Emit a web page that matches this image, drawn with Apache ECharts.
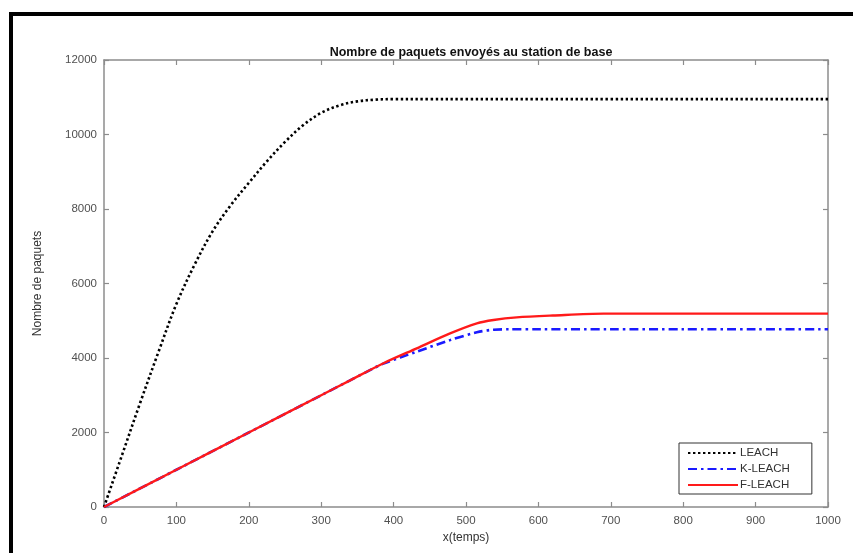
<!DOCTYPE html>
<html>
<head>
<meta charset="utf-8">
<script src="https://cdn.jsdelivr.net/npm/echarts@6/dist/echarts.min.js"></script>
<style>
html,body{margin:0;padding:0;background:#fff;}
#chart{width:853px;height:553px;}
</style>
</head>
<body>
<div id="chart"></div>
<script>
// Data
const leachT   = [0, 25, 50, 75, 100, 125, 150, 175, 200, 225, 250, 275, 300, 325, 350, 375, 400, 450, 500, 600, 700, 800, 900, 1000];
const leachV   = [0, 1400, 2800, 4150, 5450, 6500, 7400, 8100, 8700, 9280, 9800, 10250, 10580, 10780, 10890, 10935, 10950, 10950, 10950, 10950, 10950, 10950, 10950, 10950];
const kleachT  = [0, 100, 200, 300, 370, 386, 432, 478, 515, 538, 560, 600, 700, 800, 900, 1000];
const kleachV  = [0, 1000, 2000, 3000, 3700, 3850, 4170, 4480, 4690, 4760, 4770, 4770, 4770, 4770, 4770, 4770];
const fleachT  = [0, 100, 200, 300, 340, 386, 432, 478, 515, 538, 570, 620, 690, 800, 900, 1000];
const fleachV  = [0, 1000, 2000, 3000, 3400, 3860, 4260, 4660, 4930, 5020, 5090, 5140, 5190, 5190, 5190, 5190];
const xTicks = [0, 100, 200, 300, 400, 500, 600, 700, 800, 900, 1000];
const yTicks = [0, 2000, 4000, 6000, 8000, 10000, 12000];

const pair = (t, v) => t.map((x, i) => [x, v[i]]);
const font = 'Liberation Sans, Arial, sans-serif';
const axisGray = '#8c8c8c';
const labelGray = '#505050';

const chart = echarts.init(document.getElementById('chart'), null, {renderer: 'canvas'});
const baseAxisX = {
  type: 'value', min: 0, max: 1000, interval: 100,
  axisLine: {show: true, onZero: false, lineStyle: {color: axisGray, width: 1.5}},
  axisTick: {show: true, inside: true, length: 5, lineStyle: {color: axisGray, width: 1.2}},
  splitLine: {show: false}
};
const baseAxisY = {
  type: 'value', min: 0, max: 12000, interval: 2000,
  axisLine: {show: true, onZero: false, lineStyle: {color: axisGray, width: 1.5}},
  axisTick: {show: true, inside: true, length: 5, lineStyle: {color: axisGray, width: 1.2}},
  splitLine: {show: false}
};

chart.setOption({
  backgroundColor: '#fff',
  animation: false,
  title: {
    text: 'Nombre de paquets envoyés au station de base',
    left: 466, top: 41, textAlign: 'center',
    textStyle: {fontFamily: font, fontSize: 12.5, fontWeight: 'bold', color: '#111'}
  },
  grid: {left: 104, right: 25, top: 60, bottom: 46, containLabel: false},
  xAxis: [
    Object.assign({}, baseAxisX, {
      position: 'bottom',
      name: 'x(temps)', nameLocation: 'middle', nameGap: 24,
      nameTextStyle: {fontFamily: font, fontSize: 12, color: '#333'},
      axisLabel: {show: true, margin: 8, fontFamily: font, fontSize: 11.5, color: labelGray,
        formatter: v => xTicks.includes(v) ? String(v) : ''}
    }),
    Object.assign({}, baseAxisX, {position: 'top', axisLabel: {show: false}})
  ],
  yAxis: [
    Object.assign({}, baseAxisY, {
      position: 'left',
      name: 'Nombre de paquets', nameLocation: 'middle', nameGap: 60,
      nameTextStyle: {fontFamily: font, fontSize: 12, color: '#333'},
      axisLabel: {show: true, margin: 7, fontFamily: font, fontSize: 11.5, color: labelGray,
        formatter: v => yTicks.includes(v) ? String(v) : ''}
    }),
    Object.assign({}, baseAxisY, {position: 'right', axisLabel: {show: false}})
  ],
  legend: {
    orient: 'vertical', left: 679, top: 443,
    itemWidth: 50, itemHeight: 10, itemGap: 4,
    padding: [4, 22, 3, 8],
    backgroundColor: '#fff', borderColor: '#333', borderWidth: 1,
    itemStyle: {opacity: 0},
    textStyle: {fontFamily: font, fontSize: 11.5, color: '#333', padding: [0, 0, 0, -3]},
    data: ['LEACH', 'K-LEACH', 'F-LEACH']
  },
  series: [
    {
      name: 'LEACH', type: 'line', xAxisIndex: 0, yAxisIndex: 0,
      data: pair(leachT, leachV), smooth: 0.35, showSymbol: false, symbol: 'none',
      itemStyle: {color: '#000'},
      lineStyle: {color: '#000', width: 2.6, type: [2.4, 2.6]}, z: 3
    },
    {
      name: 'K-LEACH', type: 'line', xAxisIndex: 0, yAxisIndex: 0,
      data: pair(kleachT, kleachV), smooth: 0.3, showSymbol: false, symbol: 'none',
      itemStyle: {color: '#1a1aff'},
      lineStyle: {color: '#1a1aff', width: 2.6, type: [9, 4, 2.5, 4]}, z: 2
    },
    {
      name: 'F-LEACH', type: 'line', xAxisIndex: 0, yAxisIndex: 0,
      data: pair(fleachT, fleachV), smooth: 0.3, showSymbol: false, symbol: 'none',
      itemStyle: {color: '#ff1a1a'},
      lineStyle: {color: '#ff1a1a', width: 2.4, type: 'solid'}, z: 4
    }
  ],
  graphic: [
    {type: 'rect', shape: {x: 9, y: 12, width: 844, height: 4}, style: {fill: '#000'}, silent: true},
    {type: 'rect', shape: {x: 9, y: 12, width: 4, height: 541}, style: {fill: '#000'}, silent: true}
  ]
});
</script>
</body>
</html>
